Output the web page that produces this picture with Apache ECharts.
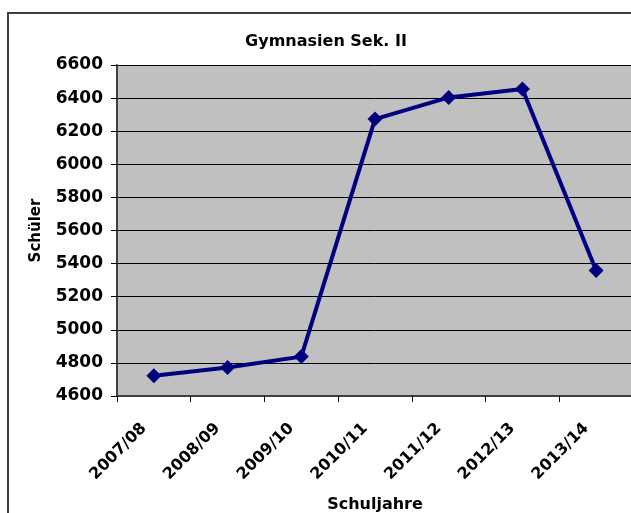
<!DOCTYPE html>
<html>
<head>
<meta charset="UTF-8">
<title>Gymnasien Sek. II</title>
<script src="https://cdn.jsdelivr.net/npm/echarts@6/dist/echarts.min.js"></script>
<style>
    body { margin: 0; padding: 0; background: #fff; }
    #chart { width: 631px; height: 513px; }
</style>
</head>
<body>
<div id="chart"></div>
<script>
    var years = ['2007/08', '2008/09', '2009/10', '2010/11', '2011/12', '2012/13', '2013/14'];
    var schueler = [4722, 4772, 4838, 6273, 6404, 6455, 5358];
    var yTicks = [4600, 6600, 200];   // min, max, step

    var chart = echarts.init(document.getElementById('chart'), null, {renderer: 'canvas'});
    var font = 'DejaVu Sans, sans-serif';

    var option = {
        animation: false,
        title: {
            text: 'Gymnasien Sek. II',
            left: 321,
            top: 29,
            textAlign: 'center',
            textStyle: {fontFamily: font, fontSize: 16, fontWeight: 'bold', color: '#000'}
        },
        graphic: [{
            type: 'rect',
            shape: {x: 8, y: 13, width: 700, height: 600},
            style: {fill: null, stroke: '#404040', lineWidth: 2},
            silent: true
        }],
        grid: {
            left: 117, right: -2, top: 65, bottom: 117,
            backgroundColor: '#C0C0C0', show: true, borderWidth: 0,
            outerBoundsMode: 'none', containLabel: false
        },
        xAxis: {
            type: 'category',
            data: years,
            boundaryGap: true,
            name: 'Schuljahre',
            nameLocation: 'middle',
            nameGap: 101,
            nameTextStyle: {fontFamily: font, fontSize: 16, fontWeight: 'bold', color: '#000'},
            axisLine: {lineStyle: {color: '#404040', width: 2}},
            axisTick: {show: true, length: 6, lineStyle: {color: '#000'}},
            axisLabel: {
                rotate: 45, margin: 20, padding: [0, 14, 0, 0],
                fontFamily: font, fontSize: 16, fontWeight: 'bold', color: '#000', interval: 0
            },
            splitLine: {show: false}
        },
        yAxis: {
            type: 'value',
            min: yTicks[0],
            max: yTicks[1],
            interval: yTicks[2],
            name: 'Schüler',
            nameLocation: 'middle',
            nameGap: 73,
            nameTextStyle: {fontFamily: font, fontSize: 15, fontWeight: 'bold', color: '#000'},
            axisLine: {show: true, lineStyle: {color: '#404040', width: 2}},
            axisTick: {show: true, length: 6, lineStyle: {color: '#000'}},
            axisLabel: {
                margin: 14, fontFamily: font, fontSize: 17, fontWeight: 'bold', color: '#000',
                formatter: function (v) { return String(v); }
            },
            splitLine: {show: true, lineStyle: {color: '#000', width: 1}}
        },
        series: [{
            type: 'line',
            data: schueler,
            symbol: 'diamond',
            symbolSize: 15,
            lineStyle: {color: '#000080', width: 4},
            itemStyle: {color: '#000080'}
        }]
    };
    chart.setOption(option);
</script>
</body>
</html>
